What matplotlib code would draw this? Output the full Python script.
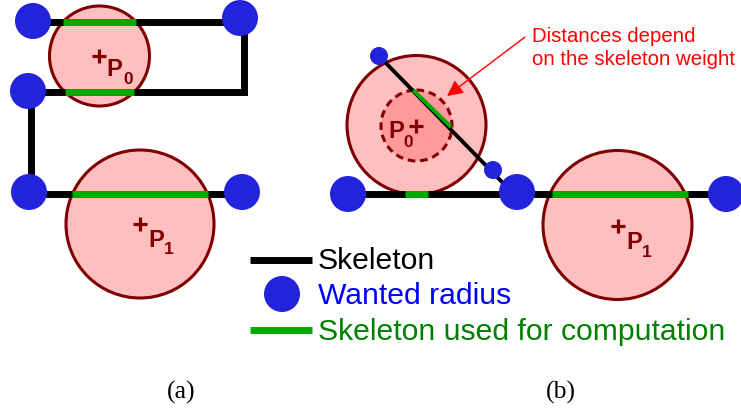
import numpy as np
import matplotlib
matplotlib.use('Agg')
import matplotlib.pyplot as plt
from matplotlib.patches import Circle

plt.rcParams['font.family'] = ['Liberation Sans', 'DejaVu Sans']

# all coordinates in image pixels (x right, y down)
# panel (a)
skel_a_x = [33, 244, 244, 31, 31, 242]
skel_a_y = [22.5, 22.5, 93, 93, 195, 195]
dots_a = [(33, 22, 18), (240, 19, 18), (28, 92, 18), (29, 193, 18), (242, 193, 18)]
circ_a = [(99.5, 57, 50), (140, 225, 74)]
green_a = [(63, 136, 22.5), (65, 134, 93), (72, 208, 195)]
lab_a = [(99, 57, 'P', '0', 114.5, 69, 128, 79),
         (140, 225, 'P', '1', 156, 241, 169, 250)]

# panel (b)
skel_b_x = [348, 727]
skel_b_y = [195, 195]
diag_x = [379, 503]
diag_y = [57, 184]
dots_b = [(348, 195, 18), (517, 193, 18), (726, 195, 18)]
small_dots_b = [(379, 57, 9), (493, 171, 9)]
circ_b = [(416.5, 126, 69.5), (617.5, 226, 74.5)]
inner_b = (416.5, 126.5, 35.5)
green_b = [(405, 428, 195), (552, 688, 195)]
green_diag = [(413, 451), (91, 128)]
lab_b = [(416, 127, 'P', '0', 396.5, 131.5, 408.5, 142.5),
         (618, 226.5, 'P', '1', 634.5, 243, 647, 252.5)]

legend_labels = ['Skeleton', 'Wanted radius', 'Skeleton used for computation']
captions = ['(a)', '(b)']

BLUE = '#2323dc'
GREEN = '#00aa00'
PINK = '#ffbfbf'
DRED = '#800000'

fig = plt.figure(figsize=(7.41, 4.10), dpi=100)
ax = fig.add_axes([0, 0, 1, 1])
ax.set_xlim(0, 741)
ax.set_ylim(410, 0)
ax.set_aspect('equal')
ax.axis('off')

lw_thick = 5.0
lw_edge = 2.2

def big_circle(c, fc=PINK, ls='-'):
    ax.add_patch(Circle((c[0], c[1]), c[2], fc=fc, ec=DRED, lw=lw_edge, ls=ls, zorder=1))

def dot(d):
    ax.add_patch(Circle((d[0], d[1]), d[2], fc=BLUE, ec='none', zorder=5))

def label(l):
    ax.plot(l[0], l[1], marker='+', ms=9.5, mew=2.3, color=DRED, zorder=6)
    ax.text(l[4], l[5], l[2], fontsize=17, fontweight='bold', color=DRED,
            ha='center', va='center', zorder=6)
    ax.text(l[6], l[7], l[3], fontsize=12.5, fontweight='bold', color=DRED,
            ha='center', va='center', zorder=6)

# (a)
for c in circ_a:
    big_circle(c)
ax.plot(skel_a_x, skel_a_y, color='black', lw=lw_thick, solid_joinstyle='miter', zorder=3)
for g in green_a:
    ax.plot([g[0], g[1]], [g[2], g[2]], color=GREEN, lw=lw_thick, solid_capstyle='butt', zorder=4)
for d in dots_a:
    dot(d)
for l in lab_a:
    label(l)

# (b)
for c in circ_b:
    big_circle(c)
big_circle(inner_b, fc='#ff9a9a', ls=(0, (2.5, 1.6)))
ax.plot(skel_b_x, skel_b_y, color='black', lw=lw_thick, zorder=3)
ax.plot(diag_x, diag_y, color='black', lw=2.8, zorder=3)
for g in green_b:
    ax.plot([g[0], g[1]], [g[2], g[2]], color=GREEN, lw=lw_thick, solid_capstyle='butt', zorder=4)
ax.plot(green_diag[0], green_diag[1], color=GREEN, lw=2.8, solid_capstyle='butt', zorder=4)
for d in dots_b + small_dots_b:
    dot(d)
for l in lab_b:
    label(l)

ax.annotate('', xy=(447, 97), xytext=(525, 38),
            arrowprops=dict(arrowstyle='-|>', color='red', lw=1.0, mutation_scale=24,
                            shrinkA=0, shrinkB=0), zorder=7)
ax.text(532, 42, 'Distances depend', color='red', fontsize=14.7, va='baseline', ha='left')
ax.text(532, 65, 'on the skeleton weight', color='red', fontsize=14.7, va='baseline', ha='left')

# legend
ax.plot([250, 312], [261, 261], color='black', lw=lw_thick, solid_capstyle='butt')
dot((282, 295, 18))
ax.plot([250, 312], [331, 331], color=GREEN, lw=lw_thick, solid_capstyle='butt')
ax.text(318, 269, legend_labels[0], color='black', fontsize=21.7, va='baseline')
ax.text(318, 304, legend_labels[1], color='#0000ff', fontsize=21.7, va='baseline')
ax.text(318, 340, legend_labels[2], color='#008000', fontsize=21.7, va='baseline')

# captions
ax.text(181, 392, captions[0], fontfamily='Liberation Serif', fontsize=18.5, ha='center', va='center')
ax.text(561, 392, captions[1], fontfamily='Liberation Serif', fontsize=18.5, ha='center', va='center')

fig.savefig('out.png', dpi=100)
